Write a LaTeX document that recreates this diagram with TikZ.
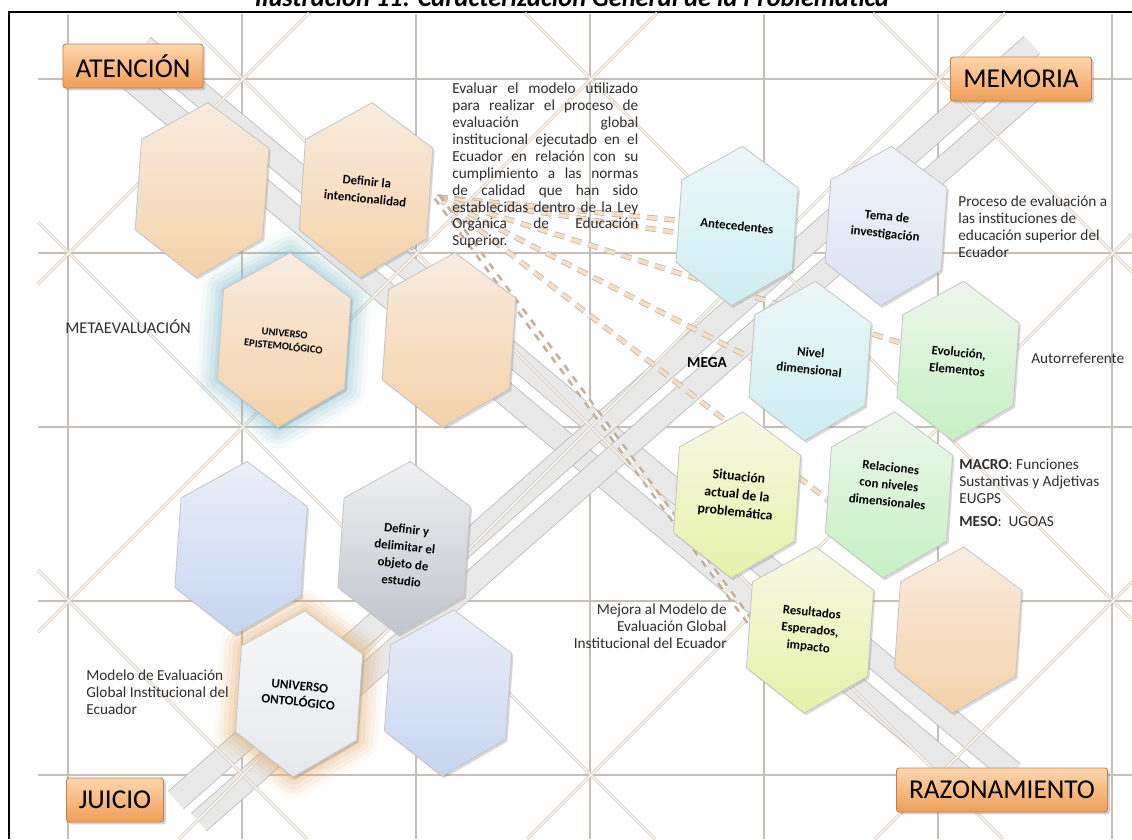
\documentclass[tikz,border=0pt]{standalone}
\usepackage{fontspec}
\setmainfont{Carlito}
\usetikzlibrary{shadows}

\definecolor{colrejilla}{RGB}{198,190,183}
\definecolor{coldiag}{RGB}{218,202,186}
\definecolor{colfranja}{RGB}{238,238,238}
\definecolor{colfranjaborde}{RGB}{188,188,188}
\definecolor{colguion}{RGB}{240,224,204}
\definecolor{colguionborde}{RGB}{196,176,154}
\definecolor{coltexto}{RGB}{45,45,45}
\definecolor{durazno1}{RGB}{248,236,224}
\definecolor{durazno2}{RGB}{245,210,168}
\definecolor{cian1}{RGB}{236,247,249}
\definecolor{cian2}{RGB}{206,238,242}
\definecolor{lila1}{RGB}{242,244,250}
\definecolor{lila2}{RGB}{218,226,242}
\definecolor{verde1}{RGB}{236,247,234}
\definecolor{verde2}{RGB}{198,240,196}
\definecolor{lima1}{RGB}{247,248,228}
\definecolor{lima2}{RGB}{230,242,168}
\definecolor{azul1}{RGB}{234,239,248}
\definecolor{azul2}{RGB}{198,214,240}
\definecolor{gris1}{RGB}{240,240,242}
\definecolor{gris2}{RGB}{192,196,204}
\definecolor{blanco1}{RGB}{247,248,249}
\definecolor{blanco2}{RGB}{230,232,236}
\definecolor{naranja1}{RGB}{253,214,172}
\definecolor{naranja2}{RGB}{240,158,88}
\definecolor{naranjaborde}{RGB}{196,128,70}
\definecolor{brilloazul}{RGB}{130,190,208}
\definecolor{brillonaranja}{RGB}{228,176,112}

\newcommand{\hexagono}[4]{%
  \path[shift={(#1)}, scale=#2, hexa, top color=#3, bottom color=#4]
    (0,-85) -- (62,-45) -- (62,43) -- (0,85) -- (-62,43) -- (-62,-45) -- cycle;}
\newcommand{\brillo}[3]{%
  \foreach \w/\o in {24/0.07,19/0.1,14/0.13,9/0.16,4/0.2}
    \draw[shift={(#1)}, scale=#2, rotate=-4, draw=#3, line width=\w pt, opacity=\o, line join=round]
      (0,-85) -- (62,-45) -- (62,43) -- (0,85) -- (-62,43) -- (-62,-45) -- cycle;}

\tikzset{
  linea/.style={draw=colrejilla, line width=1.4pt},
  diagonal/.style={draw=coldiag, line width=0.5pt, double=white, double distance=0.7pt},
  franja/.style={draw=colfranjaborde, line width=0.6pt, double=colfranja, double distance=12.5pt, opacity=0.9},
  guiones/.style={draw=colguionborde, line width=0.45pt, double=colguion, double distance=2.2pt, dash pattern=on 6pt off 4pt},
  guionesdobles/.style={draw=colguionborde, line width=1.5pt, double=white, double distance=1.6pt, dash pattern=on 4pt off 4pt},
  hexa/.style={rotate=-4, draw=gray!45, line width=0.5pt, drop shadow={opacity=0.3, shadow xshift=1pt, shadow yshift=-1.3pt}},
  etiq/.style={font=\fontsize{7.3}{9.8}\selectfont\bfseries, align=center, rotate=-6, inner sep=0pt},
  cuerpo/.style={font=\fontsize{8.7}{9.6}\selectfont, text=coltexto, inner sep=0pt},
  caja/.style={font=\fontsize{15.5}{18}\selectfont, top color=naranja1, bottom color=naranja2, draw=naranjaborde, line width=0.5pt, rounded corners=1.5pt, minimum height=0.88cm, inner xsep=0pt, drop shadow={opacity=0.35, shadow xshift=1.3pt, shadow yshift=-1.3pt}}
}

\begin{document}
\begin{tikzpicture}[x=0.02cm, y=-0.02cm]
\useasboundingbox (0,0) rectangle (1132,839);

\node[font=\fontsize{15}{17}\selectfont\bfseries\itshape, anchor=base] (titulo) at (572,6) {Ilustración 11: Caracterización General de la Problemática};
\draw[line width=1.7pt] (9,839) -- (9,12) -- (1132,12);

\coordinate (p1) at (202,190);
\coordinate (int) at (366,190);
\coordinate (epi) at (284,340);
\coordinate (p2) at (449,340);
\coordinate (b1) at (241,548);
\coordinate (obj) at (404,548);
\coordinate (ont) at (299,694);
\coordinate (b2) at (448,693);
\coordinate (ant) at (737,226);
\coordinate (tem) at (886,226);
\coordinate (niv) at (810,361);
\coordinate (evo) at (958,361);
\coordinate (sit) at (737,495);
\coordinate (rel) at (889,495);
\coordinate (res) at (810,630);
\coordinate (p3) at (958,630);

\foreach \y in {79,253,427,601,775}
  \draw[linea] (38,\y) -- (1132,\y);
\foreach \x in {68,242,416,590,764,938,1112}
  \draw[linea] (\x,14) -- (\x,839);

\coordinate (a1) at (143,46);
\coordinate (a2) at (1013,773);
\coordinate (a3) at (131,80);
\coordinate (a4) at (990,800);
\coordinate (b3) at (1032,45);
\coordinate (b4) at (176,800);
\coordinate (b5) at (1054,71);
\coordinate (b6) at (199,822);
\draw[franja] (a1) -- (a2);
\draw[franja] (a3) -- (a4);
\draw[franja] (b3) -- (b4);
\draw[franja] (b5) -- (b6);

\foreach \xa/\ya/\xb/\yb in {38/570/307/839, 38/222/655/839, 177/13/1003/839, 525/13/1132/620, 873/13/1132/272,
    309/13/38/284, 657/13/38/632, 1005/13/179/839, 1132/234/527/839, 1132/582/875/839}
  \draw[diagonal] (\xa,\ya) -- (\xb,\yb);

\coordinate (abanico) at (437,197);
\coordinate (e2) at (700,236);
\coordinate (e4) at (770,368);
\coordinate (e5) at (850,517);
\coordinate (e6) at (762,638);
\draw[guiones] (abanico) -- (ant);
\draw[guiones] (abanico) -- (e2);
\draw[guiones] (abanico) -- (evo);
\draw[guiones] (abanico) -- (e4);
\draw[guiones] (abanico) -- (e5);
\draw[guionesdobles] (abanico) -- (e6);

\brillo{epi}{1.03}{brilloazul}
\brillo{ont}{0.98}{brillonaranja}

\hexagono{p1}{1.03}{durazno1}{durazno2}
\hexagono{int}{1.03}{durazno1}{durazno2}
\hexagono{epi}{1.03}{durazno1}{durazno2}
\hexagono{p2}{1.03}{durazno1}{durazno2}
\hexagono{b1}{1.02}{azul1}{azul2}
\hexagono{obj}{1.02}{gris1}{gris2}
\hexagono{ont}{0.98}{blanco1}{blanco2}
\hexagono{b2}{0.98}{azul1}{azul2}
\hexagono{ant}{0.94}{cian1}{cian2}
\hexagono{tem}{0.94}{lila1}{lila2}
\hexagono{niv}{0.94}{cian1}{cian2}
\hexagono{evo}{0.94}{verde1}{verde2}
\hexagono{sit}{0.98}{lima1}{lima2}
\hexagono{rel}{0.98}{verde1}{verde2}
\hexagono{res}{0.98}{lima1}{lima2}
\hexagono{p3}{0.98}{durazno1}{durazno2}

\node[etiq] (intencionalidad) at (int) {Definir la\\intencionalidad};
\node[etiq, font=\fontsize{6}{7.6}\selectfont\bfseries] (epistemologico) at (epi) {UNIVERSO\\EPISTEMOLÓGICO};
\node[etiq] (objeto) at ([yshift=-4pt]obj) {Definir y\\delimitar el\\objeto de\\estudio};
\node[etiq, font=\fontsize{7.4}{9.2}\selectfont\bfseries] (ontologico) at (ont) {UNIVERSO\\ONTOLÓGICO};
\node[etiq] (antecedentes) at (ant) {Antecedentes};
\node[etiq] (tema) at (tem) {Tema de\\investigación};
\node[etiq] (nivel) at (niv) {Nivel\\dimensional};
\node[etiq] (evolucion) at (evo) {Evolución,\\Elementos};
\node[etiq, font=\fontsize{7.8}{10.2}\selectfont\bfseries] (situacion) at (sit) {Situación\\actual de la\\problemática};
\node[etiq] (relaciones) at ([yshift=6pt]rel) {Relaciones\\con niveles\\dimensionales};
\node[etiq] (resultados) at (res) {Resultados\\Esperados,\\impacto};

\node[caja, minimum width=2.8cm] (atencion) at (133,66) {ATENCIÓN};
\node[caja, minimum width=2.82cm] (memoria) at (1021,79) {MEMORIA};
\node[caja, minimum width=1.94cm] (juicio) at (115,800) {JUICIO};
\node[caja, minimum width=4.22cm] (razonamiento) at (1002,790) {RAZONAMIENTO};

\node[cuerpo, anchor=north west, text width=3.72cm, align=justify] (parrafo) at (452,83) {Evaluar el modelo utilizado\linebreak para realizar el proceso de\linebreak evaluación global\linebreak institucional ejecutado en el\linebreak Ecuador en relación con su\linebreak cumplimiento a las normas\linebreak de calidad que han sido\linebreak establecidas dentro de la Ley\linebreak Orgánica de Educación\linebreak Superior.};
\node[cuerpo, anchor=north west, align=left] (proceso) at (958,196) {Proceso de evaluación a\\las instituciones de\\educación superior del\\Ecuador};
\node[cuerpo, font=\fontsize{9.4}{11}\selectfont, anchor=west] (meta) at (65,327) {METAEVALUACIÓN};
\node[cuerpo, font=\fontsize{8.7}{10}\selectfont\bfseries, text=black] (mega) at (707,363) {MEGA};
\node[cuerpo, anchor=west] (autor) at (1031,358) {Autorreferente};
\node[cuerpo, anchor=north west, align=left] (macro) at (959,459) {\textbf{MACRO}: Funciones\\Sustantivas y Adjetivas\\EUGPS\\[3.5pt]\textbf{MESO}:\ \ UGOAS};
\node[cuerpo, anchor=north east, align=right] (mejora) at (727,604) {Mejora al Modelo de\\Evaluación Global\\Institucional del Ecuador};
\node[cuerpo, anchor=north west, align=left] (modelo) at (86,670) {Modelo de Evaluación\\Global Institucional del\\Ecuador};
\end{tikzpicture}
\end{document}
